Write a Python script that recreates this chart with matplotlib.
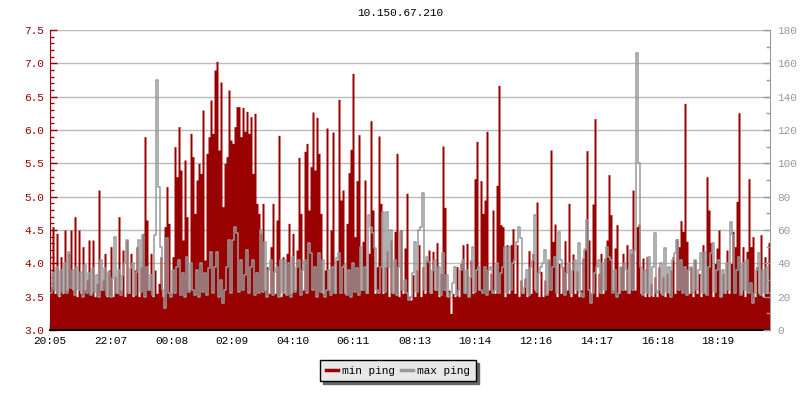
import numpy as np
import matplotlib
matplotlib.use('Agg')
from matplotlib import pyplot as plt
from matplotlib.lines import Line2D
from matplotlib.ticker import MultipleLocator

title = "10.150.67.210"
start_time = "20:05"
time_labels = ["20:05", "22:07", "00:08", "02:09", "04:10", "06:11",
               "08:13", "10:14", "12:16", "14:17", "16:18", "18:19"]
span_minutes = 1438

# min ping (left axis), one value per ~4 minutes
min_ping = [
    3.65, 4.55, 3.55, 4.45, 3.5, 4.1, 3.55, 4.5, 3.6, 4.15,
    4.5, 3.6, 4.7, 3.5, 4.5, 3.55, 4.25, 3.6, 3.75, 4.35,
    3.55, 4.35, 3.5, 3.7, 5.1, 3.6, 3.75, 4.15, 3.5, 3.9,
    4.25, 3.5, 3.8, 3.55, 4.7, 3.6, 4.2, 3.5, 4.35, 3.55,
    4.15, 3.5, 3.9, 4.25, 3.5, 3.95, 4.45, 5.9, 4.65, 3.6,
    4.15, 3.5, 3.9, 3.55, 3.7, 4.1, 3.5, 4.55, 5.15, 4.6,
    3.55, 4.1, 5.75, 5.3, 6.05, 5.4, 4.35, 5.55, 4.7, 3.6,
    5.95, 5.6,
    4.75, 5.25, 5.5, 5.35, 6.3, 4.05, 5.65, 5.9, 6.45, 5.95,
    6.9, 7.03, 5.7, 6.72, 4.85, 5.5, 5.6, 6.6, 5.85, 5.8,
    6.05, 6.35, 6.35, 5.9, 6.34, 5.98, 6.28, 5.95, 6.2, 5.35,
    6.25, 4.9, 4.75, 4.45, 4.9, 3.6, 3.95, 3.55, 4.25, 4.9,
    3.55, 4.65, 5.92, 3.5, 4.1, 3.55, 4.15, 4.6, 3.55, 4.45,
    3.6, 4.2, 5.59, 4.75, 3.6, 5.68, 5.8, 4.8, 5.45, 6.27,
    5.4, 6.19, 5.65, 4.75, 3.55, 3.9, 6.03, 3.6, 4.5, 5.97,
    3.55, 4.05,
    6.46, 4.95, 5.1, 3.55, 4.6, 5.36, 5.71, 6.85, 4.4, 5.24,
    5.93, 3.6, 4.33, 5.25, 3.55, 4.15, 6.14, 4.8, 3.55, 3.95,
    5.91, 4.9, 3.55, 3.95, 4.19, 3.5, 4.35, 3.55, 4.48, 5.65,
    3.5, 4.5, 3.55, 4.23, 5.05, 3.5, 3.45, 3.83, 3.5, 3.9,
    4.28, 3.5, 3.95, 3.55, 4.05, 4.2, 3.55, 4.18, 3.6, 4.31,
    3.5, 3.85, 5.76, 4.84, 3.5, 3.6, 3.25, 3.55, 3.5, 3.95,
    3.5, 4.0, 4.28, 3.55, 4.3, 3.5, 4.05, 3.55, 5.27, 5.83,
    3.6, 5.24,
    4.75, 4.95, 5.98, 3.6, 3.85, 4.8, 3.55, 5.17, 6.67, 4.58,
    4.55, 3.5, 4.28, 3.55, 4.28, 4.52, 3.55, 4.28, 3.5, 3.75,
    3.55, 3.78, 3.5, 4.19, 3.55, 4.15, 3.6, 4.92, 3.5, 3.88,
    3.5, 3.75, 3.55, 4.05, 5.7, 4.33, 4.59, 3.5, 4.0, 3.55,
    3.95, 4.34, 3.6, 4.9, 3.5, 4.14, 3.55, 3.89, 3.5, 3.6,
    4.08, 4.23, 5.69, 4.35, 3.55, 4.89, 6.17, 3.5, 3.85, 4.15,
    3.55, 4.08, 4.35, 5.33, 4.73, 3.6, 4.23, 4.58, 3.55, 3.95,
    4.15, 3.6,
    4.28, 3.55, 4.15, 5.1, 3.6, 4.55, 4.59, 3.55, 4.08, 3.5,
    4.1, 3.5, 3.7, 3.5, 3.8, 3.5, 3.95, 3.55, 3.8, 3.5,
    3.85, 3.55, 3.9, 4.1, 3.55, 4.37, 4.25, 4.64, 4.48, 6.4,
    4.33, 3.55, 3.94, 3.5, 4.05, 3.55, 3.85, 3.5, 4.28, 3.55,
    5.3, 4.8, 4.31, 3.5, 4.0, 4.23, 4.5, 3.5, 3.85, 3.55,
    4.2, 3.55, 4.0, 4.48, 4.25, 4.93, 6.26, 3.55, 4.25, 3.5,
    4.18, 5.27, 4.25, 4.4, 3.5, 3.95, 3.55, 4.43, 3.5, 4.1,
    3.55, 4.31,
]

# max ping (right axis)
max_ping = [
    22, 34, 24, 38, 21, 36, 23, 40, 22, 47,
    25, 36, 21, 38, 24, 35, 20, 39, 22, 34,
    21, 37, 23, 33, 20, 42, 24, 37, 21, 35,
    20, 31, 56, 22, 36, 21, 33, 40, 54, 22,
    37, 40, 21, 35, 54, 23, 57, 20, 38, 24,
    33, 21, 57, 150, 86, 50, 24, 13, 55, 22,
    20, 36, 22, 38, 42, 21, 34, 20, 44, 23,
    40, 24,
    21, 36, 20, 40, 23, 34, 21, 37, 47, 22,
    38, 47, 20, 30, 16, 24, 38, 54, 22, 54,
    62, 58, 23, 42, 24, 33, 48, 22, 38, 42,
    21, 34, 22, 60, 23, 53, 20, 36, 42, 21,
    35, 38, 20, 42, 22, 42, 21, 40, 20, 44,
    23, 38, 42, 21, 36, 42, 22, 52, 46, 24,
    38, 20, 46, 23, 42, 20, 24, 36, 21, 38,
    22, 43,
    46, 22, 38, 39, 21, 36, 20, 40, 23, 37,
    21, 50, 24, 38, 22, 69, 62, 58, 49, 24,
    22, 38, 71, 23, 71, 38, 60, 22, 42, 21,
    38, 59, 24, 30, 22, 18, 20, 34, 53, 23,
    60, 62, 82, 24, 44, 41, 22, 36, 42, 24,
    38, 21, 46, 24, 33, 20, 22, 28, 38, 21,
    24, 36, 42, 22, 36, 20, 32, 50, 23, 36,
    38, 24,
    22, 38, 21, 36, 38, 22, 24, 40, 22, 34,
    38, 50, 22, 50, 24, 40, 42, 53, 62, 55,
    22, 26, 36, 21, 38, 42, 69, 23, 34, 38,
    40, 48, 21, 42, 24, 38, 44, 22, 59, 42,
    37, 21, 34, 40, 22, 36, 42, 24, 52, 22,
    20, 48, 66, 24, 16, 22, 34, 38, 42, 22,
    40, 24, 50, 44, 42, 22, 36, 20, 22, 38,
    24, 40,
    36, 22, 48, 24, 48, 166, 100, 38, 21, 36,
    22, 44, 21, 38, 58, 22, 24, 40, 21, 49,
    23, 38, 20, 42, 46, 54, 24, 42, 22, 38,
    21, 36, 38, 22, 42, 24, 36, 46, 22, 47,
    21, 38, 46, 52, 23, 36, 42, 20, 36, 22,
    40, 24, 65, 57, 22, 36, 44, 21, 40, 24,
    42, 22, 28, 16, 22, 36, 46, 21, 36, 22,
    38, 22,
]

RED = '#990000'
GRAY = '#999999'

plt.rcParams['font.family'] = ['Liberation Mono', 'DejaVu Sans Mono']
plt.rcParams['font.size'] = 8


def to_minutes(label):
    h, m = map(int, label.split(':'))
    h0, m0 = map(int, start_time.split(':'))
    return (h * 60 + m - h0 * 60 - m0) % 1440


tick_pos = [to_minutes(t) for t in time_labels]
edges = np.linspace(0, span_minutes, len(min_ping) + 1)

fig = plt.figure(figsize=(8, 4), dpi=100)
ax = fig.add_axes([0.0625, 0.175, 0.9, 0.75])
ax2 = ax.twinx()

ax.fill_between(edges, 3.0, min_ping + [min_ping[-1]], step='post',
                color=RED, lw=0)
ax2.step(edges, max_ping + [max_ping[-1]], where='post', color=GRAY, lw=1.1)

ax.set_xlim(0, span_minutes)
ax.set_ylim(3.0, 7.5)
ax2.set_ylim(0, 180)

ax.set_xticks(tick_pos)
ax.set_xticklabels(time_labels)
ax.set_yticks(np.arange(3.0, 7.51, 0.5))
ax.set_yticklabels(["%.1f" % v for v in np.arange(3.0, 7.51, 0.5)])
ax.yaxis.set_minor_locator(MultipleLocator(0.1))
ax2.set_yticks(range(0, 181, 20))
ax2.yaxis.set_minor_locator(MultipleLocator(10))

ax.tick_params(axis='x', direction='in', length=5, width=1, colors='black', pad=4)
ax.tick_params(axis='y', which='major', direction='in', length=5, width=1,
               colors=RED, pad=4)
ax.tick_params(axis='y', which='minor', direction='in', length=3, width=1, colors=RED)
ax2.tick_params(axis='y', which='major', direction='in', length=5, width=1,
                colors=GRAY, pad=5)
ax2.tick_params(axis='y', which='minor', direction='in', length=3, width=1, colors=GRAY)

ax.yaxis.grid(True, color='#bbbbbb', lw=1)
ax.set_axisbelow(True)

for a in (ax, ax2):
    a.spines['top'].set_visible(False)
ax.spines['right'].set_visible(False)
ax2.spines['left'].set_visible(False)
ax2.spines['bottom'].set_visible(False)
ax.spines['left'].set_color(RED)
ax2.spines['right'].set_color(GRAY)
ax.spines['bottom'].set_color('black')
ax.spines['bottom'].set_linewidth(1.5)

fig.text(0.5, 1 - 13 / 400, title, ha='center', va='center', color='black')

handles = [Line2D([], [], color=RED, lw=2.5), Line2D([], [], color=GRAY, lw=2.5)]
leg = fig.legend(handles, ['min ping', 'max ping'], loc='upper center',
                 bbox_to_anchor=(0.4975, 0.113), ncol=2, frameon=True,
                 fancybox=False, shadow={'color': '#666666', 'alpha': 1.0},
                 edgecolor='black', facecolor='#e8e8e8', framealpha=1,
                 handlelength=1.1, handletextpad=0.4, columnspacing=0.5,
                 borderpad=0.5)
leg.get_frame().set_linewidth(1.0)

fig.savefig('out.png', dpi=100, facecolor='white')
